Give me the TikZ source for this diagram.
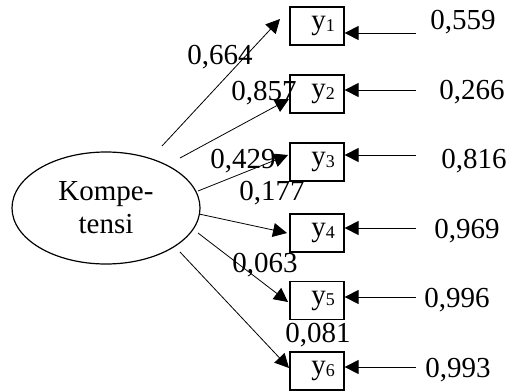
\documentclass[tikz,border=0pt]{standalone}
\usepackage{fontspec}
\setmainfont{Liberation Serif}
\usetikzlibrary{arrows.meta,shapes.geometric}

% indicator label: letter y with a small, slightly lowered index
\newcommand\indic[1]{\hspace*{12pt}y\raisebox{-1.5pt}{\fontsize{18}{18}\selectfont #1}}

\begin{document}
\begin{tikzpicture}[x=1pt,y=-1pt,
    every node/.style={font=\fontsize{29}{33}\selectfont},
    latent/.style={draw,ellipse,line width=1.2pt,minimum width=188pt,minimum height=112pt,inner sep=0pt,align=center},
    indbox/.style={draw,rectangle,line width=1.2pt,minimum width=54pt,minimum height=38pt,inner sep=0pt},
    loadarrow/.style={line width=0.8pt,-{Triangle[length=14pt,width=14pt]}},
    val/.style={anchor=base,inner sep=0pt}]
  \useasboundingbox (0,0) rectangle (510,390);

  % latent construct
  \node[latent] (K) at (106,208) {Kompe-\\tensi};

  % observed indicators
  \node[indbox] (y1) at (317,26)  {\indic{1}};
  \node[indbox] (y2) at (317,94)  {\indic{2}};
  \node[indbox] (y3) at (317,162) {\indic{3}};
  \node[indbox] (y4) at (317,233) {\indic{4}};
  \node[indbox] (y5) at (317,300.5) {\indic{5}};
  \node[indbox] (y6) at (317,371) {\indic{6}};

  % loading paths: start near the ellipse, end at the boxes
  \coordinate (s1) at (162,146); \coordinate (t1) at (280,19);
  \coordinate (s2) at (180,158); \coordinate (t2) at (289,99);
  \coordinate (s3) at (198,191); \coordinate (t3) at (288,155);
  \coordinate (s4) at (199,214); \coordinate (t4) at (287,233);
  \coordinate (s5) at (198,233); \coordinate (t5) at (288,302);
  \coordinate (s6) at (180,252); \coordinate (t6) at (289,368);
  \foreach \i in {1,...,6} \draw[loadarrow] (s\i) -- (t\i);

  % error terms pointing into the boxes
  \coordinate (e1) at (416,33);
  \coordinate (e2) at (416,90);
  \coordinate (e3) at (416,155);
  \coordinate (e4) at (416,228);
  \coordinate (e5) at (416,297);
  \coordinate (e6) at (416,367);
  \foreach \i in {1,...,6} \draw[loadarrow] (e\i) -- (e\i -| y\i.east);

  % loading values
  \node[val] (l1) at (220,65)  {0,664};
  \node[val] (l2) at (264,101) {0,857};
  \node[val] (l3) at (243,168) {0,429};
  \node[val] (l4) at (272,200) {0,177};
  \node[val] (l5) at (265,272) {0,063};
  \node[val] (l6) at (318,342) {0,081};

  % error variances
  \node[val] (v1) at (463,30)  {0,559};
  \node[val] (v2) at (472,100) {0,266};
  \node[val] (v3) at (474,168) {0,816};
  \node[val] (v4) at (467,238) {0,969};
  \node[val] (v5) at (457,307) {0,996};
  \node[val] (v6) at (458,377) {0,993};
\end{tikzpicture}
\end{document}
